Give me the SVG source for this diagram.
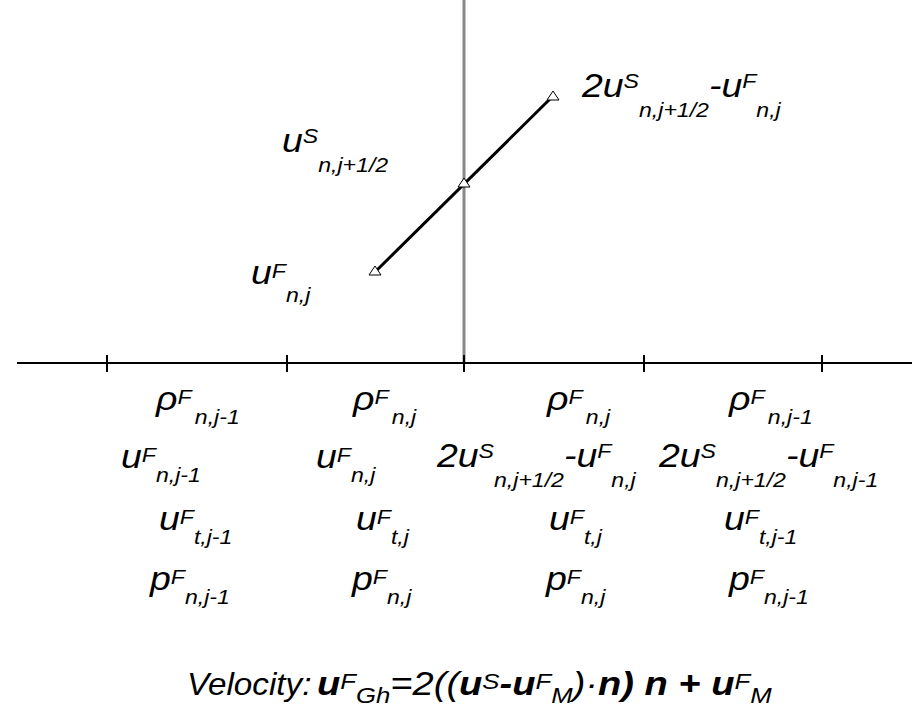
<svg xmlns="http://www.w3.org/2000/svg" width="913" height="712" viewBox="0 0 913 712">
<defs>
<style>
text{font-family:"Liberation Sans",Arial,sans-serif;font-style:italic;fill:#000;font-size:34px}
.s{font-size:21px}
.f{font-size:34px}
.fs{font-size:23px}
.b{font-weight:bold}
.axis{stroke:#000;stroke-width:2;fill:none}
.wall{stroke:#888;stroke-width:3;fill:none}
.seg{stroke:#000;stroke-width:3;fill:none}
.tri{fill:#fff;stroke:#000;stroke-width:1}
</style>
<path id="tri" d="M0,-5 L6,4 L-6,4 Z"/>
</defs>
<rect width="913" height="712" fill="#fff"/>
<g id="connectors">
<line class="wall" x1="464" y1="0" x2="464" y2="363"/>
<line class="axis" x1="17" y1="363" x2="912" y2="363"/>
<g class="axis">
<line x1="107" y1="355" x2="107" y2="372"/>
<line x1="287" y1="355" x2="287" y2="372"/>
<line x1="464" y1="355" x2="464" y2="372"/>
<line x1="644" y1="355" x2="644" y2="372"/>
<line x1="822" y1="355" x2="822" y2="372"/>
</g>
<line class="seg" x1="375" y1="272" x2="553" y2="96"/>
</g>
<g id="markers">
<use href="#tri" class="tri" x="375" y="271"/>
<use href="#tri" class="tri" x="464" y="183"/>
<use href="#tri" class="tri" x="553" y="96"/>
</g>
<g id="label-top">
<text transform="translate(582,97) scale(1.1,1)">2u<tspan class="s" dy="-9">S</tspan><tspan class="s" dy="29">n,j+1/2</tspan><tspan dy="-20">-u</tspan><tspan class="s" dy="-9">F</tspan><tspan class="s" dy="29">n,j</tspan></text>
</g>
<g id="label-us">
<text transform="translate(282,152) scale(1.1,1)">u<tspan class="s" dy="-9">S</tspan><tspan class="s" dy="29">n,j+1/2</tspan></text>
</g>
<g id="label-uf">
<text transform="translate(251,284) scale(1.1,1)">u<tspan class="s" dy="-6">F</tspan><tspan class="s" dy="24">n,j</tspan></text>
</g>
<g id="row1">
<text transform="translate(156,410) scale(1.1,1)">ρ<tspan class="s" dy="-6">F</tspan><tspan class="s" dx="3" dy="20">n,j-1</tspan></text>
<text transform="translate(353,410) scale(1.1,1)">ρ<tspan class="s" dy="-6">F</tspan><tspan class="s" dx="3" dy="20">n,j</tspan></text>
<text transform="translate(547,410) scale(1.1,1)">ρ<tspan class="s" dy="-6">F</tspan><tspan class="s" dx="3" dy="20">n,j</tspan></text>
<text transform="translate(729,410) scale(1.1,1)">ρ<tspan class="s" dy="-6">F</tspan><tspan class="s" dx="3" dy="20">n,j-1</tspan></text>
</g>
<g id="row2">
<text transform="translate(121,468) scale(1.1,1)">u<tspan class="s" dy="-6">F</tspan><tspan class="s" dy="20">n,j-1</tspan></text>
<text transform="translate(316,468) scale(1.1,1)">u<tspan class="s" dy="-6">F</tspan><tspan class="s" dy="20">n,j</tspan></text>
<text transform="translate(437,467) scale(1.1,1)">2u<tspan class="s" dy="-9">S</tspan><tspan class="s" dy="29">n,j+1/2</tspan><tspan dy="-20">-u</tspan><tspan class="s" dy="-9">F</tspan><tspan class="s" dy="29">n,j</tspan></text>
<text transform="translate(659,467) scale(1.1,1)">2u<tspan class="s" dy="-9">S</tspan><tspan class="s" dy="29">n,j+1/2</tspan><tspan dy="-20">-u</tspan><tspan class="s" dy="-9">F</tspan><tspan class="s" dy="29">n,j-1</tspan></text>
</g>
<g id="row3">
<text transform="translate(159,530) scale(1.1,1)">u<tspan class="s" dy="-6">F</tspan><tspan class="s" dy="20">t,j-1</tspan></text>
<text transform="translate(356,530) scale(1.1,1)">u<tspan class="s" dy="-6">F</tspan><tspan class="s" dy="20">t,j</tspan></text>
<text transform="translate(549,530) scale(1.1,1)">u<tspan class="s" dy="-6">F</tspan><tspan class="s" dy="20">t,j</tspan></text>
<text transform="translate(724,530) scale(1.1,1)">u<tspan class="s" dy="-6">F</tspan><tspan class="s" dy="20">t,j-1</tspan></text>
</g>
<g id="row4">
<text transform="translate(150,590) scale(1.1,1)">p<tspan class="s" dy="-6">F</tspan><tspan class="s" dy="20">n,j-1</tspan></text>
<text transform="translate(352,590) scale(1.1,1)">p<tspan class="s" dy="-6">F</tspan><tspan class="s" dy="20">n,j</tspan></text>
<text transform="translate(546,590) scale(1.1,1)">p<tspan class="s" dy="-6">F</tspan><tspan class="s" dy="20">n,j</tspan></text>
<text transform="translate(729,590) scale(1.1,1)">p<tspan class="s" dy="-6">F</tspan><tspan class="s" dy="20">n,j-1</tspan></text>
</g>
<g id="formula">
<text transform="translate(187,695) scale(1.04,1)" style="font-size:32px">Velocity:</text>
<text class="f" transform="translate(317,695) scale(1.12,1)"><tspan class="b">u</tspan><tspan class="fs" dy="-6">F</tspan><tspan class="fs" dy="14">Gh</tspan><tspan dy="-8">=2((</tspan><tspan class="b">u</tspan><tspan class="fs" dy="-6">S</tspan><tspan class="b" dy="6">-u</tspan><tspan class="fs" dy="-6">F</tspan><tspan class="fs" dy="14">M</tspan><tspan dy="-8">)·</tspan><tspan class="b">n) n + u</tspan><tspan class="fs" dy="-6">F</tspan><tspan class="fs" dy="14">M</tspan></text>
</g>
</svg>
